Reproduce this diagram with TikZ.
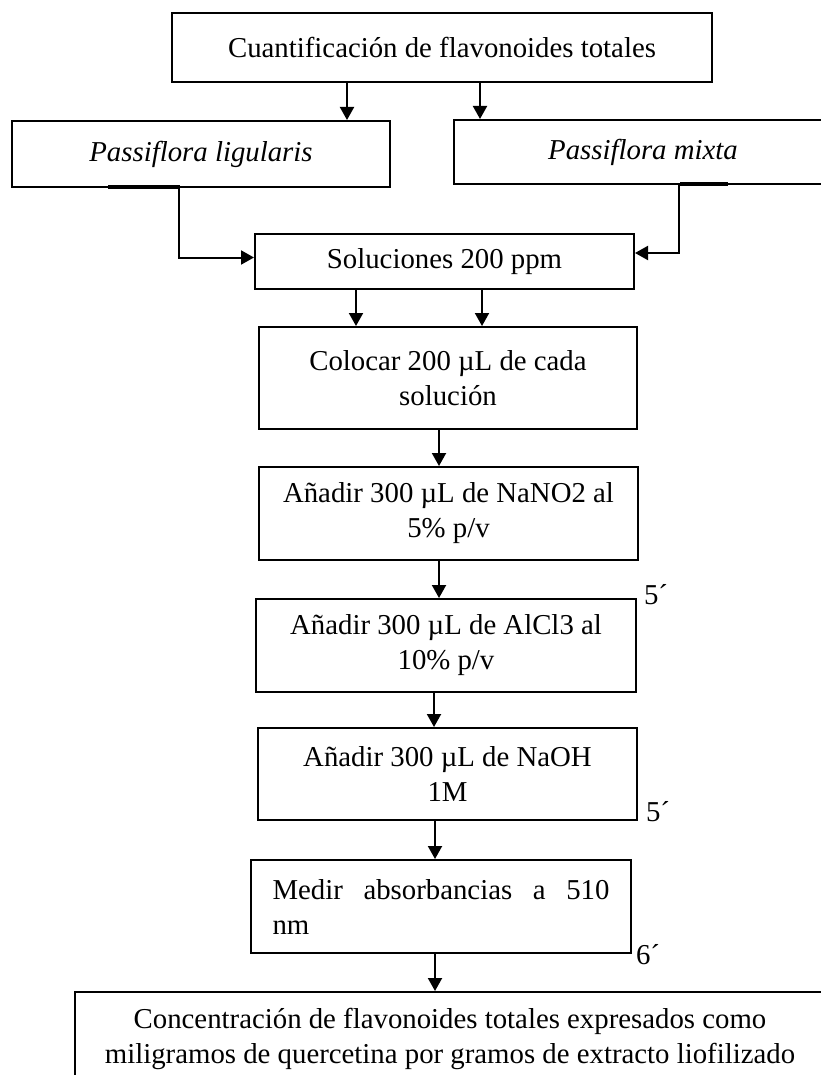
\documentclass[tikz,border=0pt]{standalone}
\usepackage{fontspec}
\setmainfont{Liberation Serif}
\usetikzlibrary{arrows.meta}

\begin{document}
\begin{tikzpicture}[x=0.5pt, y=-0.5pt,
  box/.style={rectangle, draw=black, line width=1pt, fill=white, align=center,
              inner sep=0pt, font=\fontsize{14.4}{17.5}\selectfont},
  note/.style={inner sep=0pt, font=\fontsize{14.4}{17.5}\selectfont},
  arr/.style={-{Triangle[length=6.5pt,width=7pt]}, line width=1pt}
]
\useasboundingbox (0,0) rectangle (820,1075);

\node[box, minimum width=270pt, minimum height=34.5pt] (title) at (442,47.5)
  {Cuantificación de flavonoides totales};
\node[box, minimum width=189pt, minimum height=33pt, font=\fontsize{14.4}{17.5}\selectfont\itshape] (lig) at (201,154)
  {Passiflora ligularis};
\node[box, minimum width=189pt, minimum height=32pt, font=\fontsize{14.4}{17.5}\selectfont\itshape] (mix) at (643,152)
  {Passiflora mixta};
\node[box, minimum width=189.5pt, minimum height=27.5pt] (sol) at (444.5,261.5)
  {Soluciones 200 ppm};
\node[box, minimum width=189pt, minimum height=51pt] (col) at (448,378)
  {Colocar 200 µL de cada\\solución};
\node[box, minimum width=189.5pt, minimum height=46.5pt] (nano) at (448.5,513.5)
  {Añadir 300 µL de NaNO2 al\\5\%  p/v};
\node[box, minimum width=190pt, minimum height=46.5pt] (alcl) at (446,645.5)
  {Añadir 300 µL de AlCl3 al\\10\% p/v};
\node[box, minimum width=189.5pt, minimum height=46pt] (naoh) at (447.5,774)
  {Añadir 300 µL de NaOH\\1M};
\node[box, align=justify, text width=168.5pt, inner xsep=10.75pt, minimum height=46.5pt] (medir) at (441,906.5)
  {\hyphenpenalty=10000 Medir absorbancias a 510\linebreak nm};
\node[box, minimum width=375pt, minimum height=46.5pt] (final) at (450,1038.5)
  {Concentración de flavonoides totales expresados como\\miligramos de quercetina por gramos de extracto liofilizado};

% tiempos de espera
\node[note] (t1) at (656,595) {5´};
\node[note] (t2) at (658,812) {5´};
\node[note] (t3) at (648,955) {6´};

% bordes inferiores engrosados
\draw[line width=1.6pt] (108,187) -- (180,187);
\draw[line width=1.6pt] (680,184) -- (728,184);

\draw[arr] ([xshift=-47.5pt]title.south) -- ([xshift=-47.5pt]title.south |- lig.north);
\draw[arr] ([xshift=19pt]title.south) -- ([xshift=19pt]title.south |- mix.north);
\draw[arr] ([xshift=-11pt]lig.south) |- ([yshift=2pt]sol.west);
\draw[arr] ([xshift=18pt]mix.south) |- ([yshift=4.25pt]sol.east);
\draw[arr] ([xshift=-44.25pt]sol.south) -- ([xshift=-44.25pt]sol.south |- col.north);
\draw[arr] ([xshift=18.75pt]sol.south) -- ([xshift=18.75pt]sol.south |- col.north);
\draw[arr] ([xshift=-4.5pt]col.south) -- ([xshift=-4.5pt]col.south |- nano.north);
\draw[arr] ([xshift=-4.75pt]nano.south) -- ([xshift=-4.75pt]nano.south |- alcl.north);
\draw[arr] ([xshift=-6pt]alcl.south) -- ([xshift=-6pt]alcl.south |- naoh.north);
\draw[arr] ([xshift=-6.25pt]naoh.south) -- ([xshift=-6.25pt]naoh.south |- medir.north);
\draw[arr] ([xshift=-3pt]medir.south) -- ([xshift=-3pt]medir.south |- final.north);
\end{tikzpicture}
\end{document}
